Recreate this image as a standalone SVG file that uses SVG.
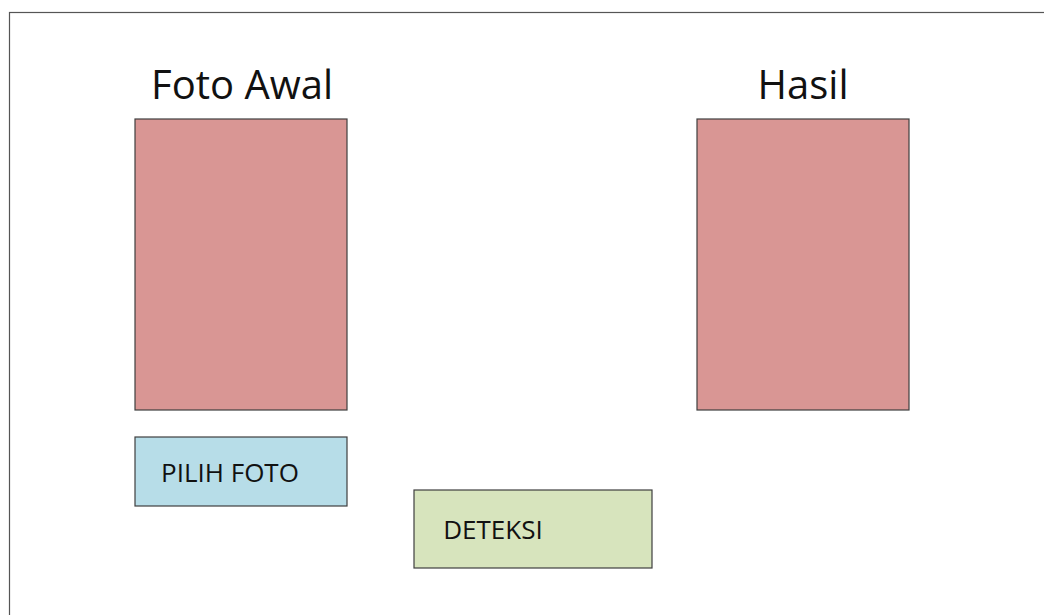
<svg xmlns="http://www.w3.org/2000/svg" width="1044" height="615" viewBox="0 0 1044 615">
  <style>
    .panel { fill: #d99694; stroke: #3f3f3f; stroke-width: 1.2; }
    .btn { stroke: #3f3f3f; stroke-width: 1.2; }
    .title { font-family: "Open Sans", "Noto Sans", sans-serif; font-size: 40px; fill: #111; text-anchor: middle; }
    .label { font-family: "Open Sans", "Noto Sans", sans-serif; font-size: 26px; fill: #111; text-anchor: middle; }
  </style>
  <rect width="1044" height="615" fill="#ffffff"/>
  <!-- outer frame -->
  <rect x="9.5" y="12.5" width="1060" height="620" fill="none" stroke="#555555" stroke-width="1.2"/>

  <g id="foto-awal">
    <text class="title" x="242" y="99">Foto Awal</text>
    <rect class="panel" x="135" y="119" width="212" height="291"/>
  </g>

  <g id="hasil">
    <text class="title" x="803" y="99">Hasil</text>
    <rect class="panel" x="697" y="119" width="212" height="291"/>
  </g>

  <g id="pilih-foto">
    <rect class="btn" x="135" y="437" width="212" height="69" fill="#b7dde8"/>
    <text class="label" x="230" y="482">PILIH FOTO</text>
  </g>

  <g id="deteksi">
    <rect class="btn" x="414" y="490" width="238" height="78" fill="#d7e4bd"/>
    <text class="label" x="493" y="539">DETEKSI</text>
  </g>

  <g id="connectors"/>
</svg>
